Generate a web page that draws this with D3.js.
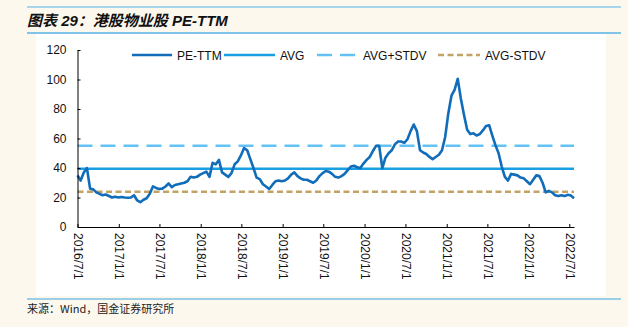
<!DOCTYPE html>
<html>
<head>
<meta charset="utf-8">
<script src="https://cdn.jsdelivr.net/npm/d3@7"></script>
<style>
  html, body { margin: 0; padding: 0; background: #fdf8ee; }
  svg { display: block; }
</style>
</head>
<body>
<div id="chart"></div>
<script>
// Biweekly PE-TTM readings, Hong Kong property-management stocks
const dates = [
  "2016-07-01","2016-07-15","2016-07-29","2016-08-12","2016-08-26","2016-09-09","2016-09-23","2016-10-07","2016-10-21","2016-11-04","2016-11-18","2016-12-02","2016-12-16","2016-12-30",
  "2017-01-13","2017-01-27","2017-02-10","2017-02-24","2017-03-10","2017-03-24","2017-04-07","2017-04-21","2017-05-05","2017-05-19","2017-06-02","2017-06-16","2017-06-30","2017-07-14","2017-07-28","2017-08-11","2017-08-25","2017-09-08","2017-09-22","2017-10-06","2017-10-20","2017-11-03","2017-11-17","2017-12-01","2017-12-15","2017-12-29",
  "2018-01-12","2018-01-26","2018-02-09","2018-02-23","2018-03-09","2018-03-23","2018-04-06","2018-04-20","2018-05-04","2018-05-18","2018-06-01","2018-06-15","2018-06-29","2018-07-13","2018-07-27","2018-08-10","2018-08-24","2018-09-07","2018-09-21","2018-10-05","2018-10-19","2018-11-02","2018-11-16","2018-11-30","2018-12-14","2018-12-28",
  "2019-01-11","2019-01-25","2019-02-08","2019-02-22","2019-03-08","2019-03-22","2019-04-05","2019-04-19","2019-05-03","2019-05-17","2019-05-31","2019-06-14","2019-06-28","2019-07-12","2019-07-26","2019-08-09","2019-08-23","2019-09-06","2019-09-20","2019-10-04","2019-10-18","2019-11-01","2019-11-15","2019-11-29","2019-12-13","2019-12-27",
  "2020-01-10","2020-01-24","2020-02-07","2020-02-21","2020-03-06","2020-03-20","2020-04-03","2020-04-17","2020-05-01","2020-05-15","2020-05-29","2020-06-12","2020-06-26","2020-07-10","2020-07-24","2020-08-07","2020-08-21","2020-09-04","2020-09-18","2020-10-02","2020-10-16","2020-10-30","2020-11-13","2020-11-27","2020-12-11","2020-12-25",
  "2021-01-08","2021-01-22","2021-02-05","2021-02-19","2021-03-05","2021-03-19","2021-04-02","2021-04-16","2021-04-30","2021-05-14","2021-05-28","2021-06-11","2021-06-25","2021-07-09","2021-07-23","2021-08-06","2021-08-20","2021-09-03","2021-09-17","2021-10-01","2021-10-15","2021-10-29","2021-11-12","2021-11-26","2021-12-10","2021-12-24",
  "2022-01-07","2022-01-21","2022-02-04","2022-02-18","2022-03-04","2022-03-18","2022-04-01","2022-04-15","2022-04-29","2022-05-13","2022-05-27","2022-06-10","2022-06-24","2022-07-08","2022-07-22"
];

const peTTM = [
  35, 31.5, 37, 40, 26, 25.5, 23.5, 22.5, 21.5, 22, 21, 20, 20.5, 20,
  20.3, 20, 19.8, 20, 21.5, 18, 16.8, 18.5, 19.5, 22.5, 27.5, 26.5, 25.8, 26, 27.5, 29.5, 27, 28.5, 29, 29.5, 30, 31, 34, 33.5, 34, 35.5,
  36.5, 37.5, 34, 43.5, 42.5, 45.5, 37, 35.5, 34, 36.5, 42.5, 44.5, 48.5, 53.5, 52, 46, 40, 33.5, 32.5, 29, 27.5, 25.8, 28.5, 31, 31.5, 31,
  31.5, 33, 35.5, 37, 34.5, 33, 32, 32, 31, 30, 31.5, 34.5, 36.5, 38, 37.5, 36, 34, 33.5, 34.5, 36, 38.5, 41, 41.5, 40.5, 40, 43,
  45.5, 47.5, 51.5, 55, 55, 40, 47, 50, 52, 56, 58, 58, 57, 59.5, 65, 69.5, 65, 52, 50.5, 49.5, 47.5, 46, 47.5, 49, 52, 61,
  77, 89, 93, 100.5, 87, 76, 66, 63, 63.5, 62, 63, 65.5, 68.5, 69, 62, 55.5, 50, 41, 34, 31.5, 36, 35.5, 35, 33.5, 33, 31,
  29, 32, 35, 34.5, 30, 23.5, 24.5, 23.5, 21.5, 21, 21.5, 21, 21.8, 21.3, 19.5
];

const avgValue = 39.5;
const stdvValue = 15.6;

const xTickLabels = ["2016/7/1","2017/1/1","2017/7/1","2018/1/1","2018/7/1","2019/1/1","2019/7/1",
                     "2020/1/1","2020/7/1","2021/1/1","2021/7/1","2022/1/1","2022/7/1"];
const yTicks = [0, 20, 40, 60, 80, 100, 120];

const seriesNames = ["PE-TTM", "AVG", "AVG+STDV", "AVG-STDV"];

const W = 628, H = 327;
const parseDay = d3.timeParse("%Y-%m-%d");
const parseTick = d3.timeParse("%Y/%m/%d");

const data = dates.map((d, i) => ({ date: parseDay(d), value: peTTM[i] }));

const svg = d3.select("#chart").append("svg")
  .attr("width", W).attr("height", H);

// page background + white panel
svg.append("rect").attr("width", W).attr("height", H).attr("fill", "#fdf8ee");
svg.append("rect").attr("x", 36).attr("y", 34).attr("width", 570).attr("height", 262).attr("fill", "#ffffff");

// title rules
svg.append("line").attr("x1", 27).attr("x2", 621).attr("y1", 7).attr("y2", 7)
  .attr("stroke", "#54b2e6").attr("stroke-width", 1.2);
svg.append("line").attr("x1", 27).attr("x2", 621).attr("y1", 33).attr("y2", 33)
  .attr("stroke", "#54b2e6").attr("stroke-width", 1.6);
svg.append("line").attr("x1", 27).attr("x2", 621).attr("y1", 299).attr("y2", 299)
  .attr("stroke", "#3aa6e2").attr("stroke-width", 1.2);

svg.append("text")
  .attr("x", 27).attr("y", 26)
  .attr("font-family", "'Liberation Sans', 'Noto Sans CJK SC', sans-serif")
  .attr("font-size", 15).attr("font-weight", "bold").attr("font-style", "italic")
  .attr("fill", "#111")
  .text("图表 29：港股物业股 PE-TTM");

svg.append("text")
  .attr("x", 27).attr("y", 313)
  .attr("font-family", "'Noto Sans CJK SC', 'Liberation Sans', sans-serif")
  .attr("font-size", 11).attr("fill", "#222")
  .text("来源：Wind，国金证券研究所");

// scales
const plotLeft = 77.5, plotRight = 574, plotTop = 50, plotBottom = 227;
const x = d3.scaleTime()
  .domain([parseDay("2016-07-01"), parseDay("2022-07-22")])
  .range([plotLeft, plotRight]);
const y = d3.scaleLinear().domain([0, 120]).range([plotBottom, plotTop]);

const g = svg.append("g");

// reference lines
const refs = [
  { v: avgValue, color: "#1a9fe3", dash: null },
  { v: avgValue + stdvValue, color: "#64c1f3", dash: "15,8" },
  { v: avgValue - stdvValue, color: "#c3a266", dash: "6,3.5" }
];
refs.forEach(r => {
  g.append("line")
    .attr("x1", x.range()[0]).attr("x2", x.range()[1])
    .attr("y1", y(r.v)).attr("y2", y(r.v))
    .attr("stroke", r.color).attr("stroke-width", 2.4)
    .attr("stroke-dasharray", r.dash);
});

// PE-TTM line
g.append("path")
  .datum(data)
  .attr("fill", "none")
  .attr("stroke", "#116cb9")
  .attr("stroke-width", 2.6)
  .attr("stroke-linejoin", "round")
  .attr("d", d3.line().x(d => x(d.date)).y(d => y(d.value)));

// axes
const yAxis = g.append("g")
  .attr("transform", `translate(${plotLeft},0)`)
  .call(d3.axisLeft(y).tickValues(yTicks).tickSize(-3).tickPadding(11).tickSizeOuter(0));
yAxis.selectAll("text")
  .attr("font-family", "'Liberation Sans', Arial, sans-serif")
  .attr("font-size", 12).attr("fill", "#111");

const xAxis = g.append("g")
  .attr("transform", `translate(0,${plotBottom})`)
  .call(d3.axisBottom(x)
    .tickValues(xTickLabels.map(t => parseTick(t)))
    .tickFormat(d3.timeFormat("%Y/%-m/%-d"))
    .tickSize(-3).tickSizeOuter(0));
xAxis.selectAll("text")
  .attr("font-family", "'Liberation Sans', Arial, sans-serif")
  .attr("font-size", 12).attr("fill", "#111")
  .attr("text-anchor", "start")
  .attr("transform", "rotate(90)")
  .attr("x", 6).attr("y", 0).attr("dy", "0.35em");

svg.selectAll(".domain").attr("stroke", "#000").attr("stroke-width", 1);
svg.selectAll(".tick line").attr("stroke", "#000");

// legend
const legend = [
  { name: seriesNames[0], x: 132, len: 40, color: "#116cb9", dash: null },
  { name: seriesNames[1], x: 224, len: 51, color: "#1a9fe3", dash: null },
  { name: seriesNames[2], x: 317, len: 41, color: "#64c1f3", dash: "15,8" },
  { name: seriesNames[3], x: 438, len: 42, color: "#c3a266", dash: "6,3.5" }
];
const lg = svg.append("g");
legend.forEach(l => {
  lg.append("line")
    .attr("x1", l.x).attr("x2", l.x + l.len)
    .attr("y1", 55).attr("y2", 55)
    .attr("stroke", l.color).attr("stroke-width", 2.4)
    .attr("stroke-dasharray", l.dash);
  lg.append("text")
    .attr("x", l.x + l.len + 5).attr("y", 59.5)
    .attr("font-family", "'Liberation Sans', Arial, sans-serif")
    .attr("font-size", 12).attr("fill", "#111")
    .text(l.name);
});
</script>
</body>
</html>
